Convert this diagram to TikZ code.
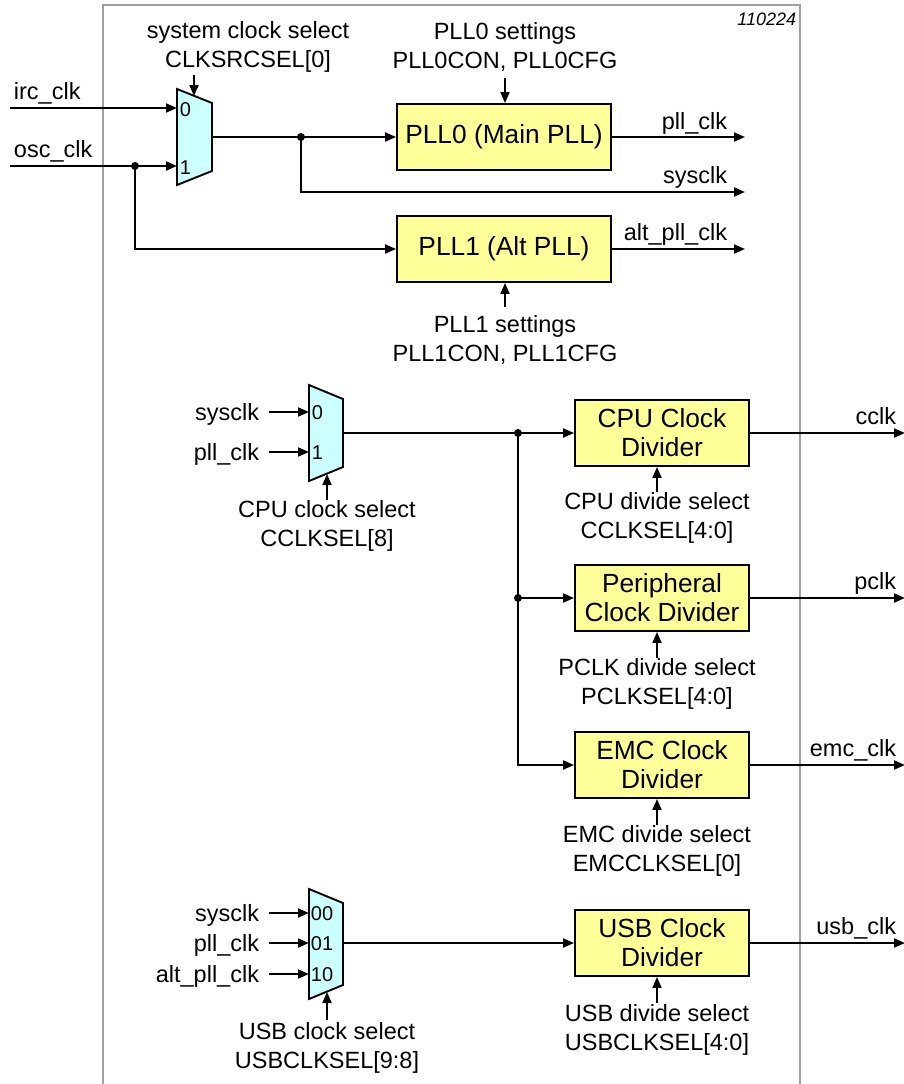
\documentclass[tikz,border=0pt]{standalone}
\usepackage{fontspec}
\setmainfont{Liberation Sans}
\usetikzlibrary{arrows.meta}
\definecolor{boxyellow}{HTML}{FFFF99}
\definecolor{muxcyan}{HTML}{CCFFFF}
\definecolor{framegray}{HTML}{A0A0A0}
\begin{document}
\begin{tikzpicture}[x=1pt,y=-1pt,line width=1.9pt,
  arr/.style={-{Triangle[length=11pt,width=9pt]}},
  lbl/.style={font=\fontsize{23.5}{28.5}\selectfont, inner sep=0pt, align=center},
  sig/.style={font=\fontsize{23.5}{28.5}\selectfont, inner sep=0pt},
  port/.style={font=\fontsize{20}{22}\selectfont, inner sep=0pt, anchor=west},
  blk/.style={draw, fill=boxyellow, font=\fontsize{26.3}{29}\selectfont, align=center, inner sep=0pt},
  muxshape/.style={draw, fill=muxcyan},
  jdot/.style={circle, fill=black, draw=none, inner sep=0pt, minimum size=8pt}]
\useasboundingbox (0,0) rectangle (904,1084);
\fill[white] (0,0) rectangle (904,1084);

% frame
\draw[framegray, line width=1.5pt] (103,1090) -- (103,5) -- (800,5) -- (800,1090);
\node[anchor=base east, inner sep=0pt, font=\fontsize{18}{20}\selectfont\itshape] (ver) at (797,25) {110224};

% ---------- top multiplexer ----------
\draw[muxshape] (177,89) -- (212,103) -- (212,171) -- (177,185) -- cycle;
\coordinate (m0in0) at (177,108);
\coordinate (m0in1) at (177,166);
\coordinate (m0out) at (212,137);
\coordinate (m0sel) at (194,96);
\node[port] (m0p0) at (179,110) {0};
\node[port] (m0p1) at (179,168) {1};

\coordinate (ircs) at (10,108);
\coordinate (oscs) at (10,166);
\node[sig, anchor=base west] (irclbl) at (13,99) {irc\_clk};
\node[sig, anchor=base west] (osclbl) at (13,157) {osc\_clk};
\draw[arr] (ircs) -- (m0in0);
\draw[arr] (oscs) -- (m0in1);
\node[jdot] (d2) at (135,166) {};

\node[lbl] (sysselLbl) at (248,47) {system clock select\\CLKSRCSEL[0]};
\coordinate (m0selS) at (194,75);
\draw[arr] (m0selS) -- (m0sel);

% PLL blocks
\node[blk, minimum width=214pt, minimum height=66pt] (pll0) at (504,137) {PLL0 (Main PLL)};
\node[blk, minimum width=214pt, minimum height=66pt] (pll1) at (504,249) {PLL1 (Alt PLL)};
\node[jdot] (d1) at (301,137) {};
\draw[arr] (m0out) -- (pll0.west);
\coordinate (sysclkE) at (745,192);
\draw[arr] (d1.center) |- (sysclkE);
\draw[arr] (d2.center) |- (pll1.west);

\coordinate (pllclkE) at (745,137);
\coordinate (altE) at (745,249);
\draw[arr] (pll0.east) -- (pllclkE);
\draw[arr] (pll1.east) -- (altE);
\node[sig, anchor=base east] (pllclkLbl) at (728,129) {pll\_clk};
\node[sig, anchor=base east] (sysclkLbl) at (728,183) {sysclk};
\node[sig, anchor=base east] (altLbl) at (728,240) {alt\_pll\_clk};

\node[lbl] (pll0set) at (505,47) {PLL0 settings\\PLL0CON, PLL0CFG};
\coordinate (pll0setS) at (505,78);
\draw[arr] (pll0setS) -- (pll0.north -| pll0setS);
\node[lbl] (pll1set) at (505,340) {PLL1 settings\\PLL1CON, PLL1CFG};
\coordinate (pll1setS) at (505,307);
\draw[arr] (pll1setS) -- (pll1.south -| pll1setS);

% ---------- CPU multiplexer ----------
\draw[muxshape] (309,385) -- (343,399) -- (343,467) -- (309,481) -- cycle;
\coordinate (m1in0) at (309,412);
\coordinate (m1in1) at (309,452);
\coordinate (m1out) at (343,433);
\coordinate (m1sel) at (327,474);
\node[port] (m1p0) at (311,413) {0};
\node[port] (m1p1) at (311,453) {1};
\coordinate (m1s0) at (269,412);
\coordinate (m1s1) at (269,452);
\node[sig, anchor=base east] (m1l0) at (260,420) {sysclk};
\node[sig, anchor=base east] (m1l1) at (260,460) {pll\_clk};
\draw[arr] (m1s0) -- (m1in0);
\draw[arr] (m1s1) -- (m1in1);
\coordinate (m1selS) at (327,500);
\draw[arr] (m1selS) -- (m1sel);
\node[lbl] (cpuselLbl) at (327,526) {CPU clock select\\CCLKSEL[8]};

% dividers
\node[blk, minimum width=174pt, minimum height=66pt] (cpu) at (662,433) {CPU Clock\\Divider};
\node[blk, minimum width=174pt, minimum height=66pt] (per) at (662,598) {Peripheral\\Clock Divider};
\node[blk, minimum width=174pt, minimum height=66pt] (emc) at (662,765) {EMC Clock\\Divider};
\node[blk, minimum width=174pt, minimum height=66pt] (usb) at (662,943) {USB Clock\\Divider};

\node[jdot] (d3) at (518,433) {};
\node[jdot] (d4) at (518,598) {};
\draw[arr] (m1out) -- (cpu.west);
\draw[arr] (d3.center) -- (d4.center) -- (per.west);
\draw[arr] (d4.center) |- (emc.west);

% outputs
\coordinate (cclkE) at (905,433);
\coordinate (pclkE) at (905,598);
\coordinate (emcE) at (905,765);
\coordinate (usbE) at (905,943);
\draw[arr] (cpu.east) -- (cclkE);
\draw[arr] (per.east) -- (pclkE);
\draw[arr] (emc.east) -- (emcE);
\draw[arr] (usb.east) -- (usbE);
\node[sig, anchor=base east] (cclkLbl) at (897,424) {cclk};
\node[sig, anchor=base east] (pclkLbl) at (897,589) {pclk};
\node[sig, anchor=base east] (emcLbl) at (897,756) {emc\_clk};
\node[sig, anchor=base east] (usbLbl) at (897,934) {usb\_clk};

% divider selects
\coordinate (cpuS) at (657,492);
\coordinate (perS) at (657,658);
\coordinate (emcS) at (657,825);
\coordinate (usbS) at (657,1003);
\draw[arr] (cpuS) -- (cpu.south -| cpuS);
\draw[arr] (perS) -- (per.south -| perS);
\draw[arr] (emcS) -- (emc.south -| emcS);
\draw[arr] (usbS) -- (usb.south -| usbS);
\node[lbl] (cpuDivLbl) at (657,518) {CPU divide select\\CCLKSEL[4:0]};
\node[lbl] (perDivLbl) at (657,684) {PCLK divide select\\PCLKSEL[4:0]};
\node[lbl] (emcDivLbl) at (657,851) {EMC divide select\\EMCCLKSEL[0]};
\node[lbl] (usbDivLbl) at (657,1030) {USB divide select\\USBCLKSEL[4:0]};

% ---------- USB multiplexer ----------
\draw[muxshape] (309,889) -- (343,903) -- (343,985) -- (309,999) -- cycle;
\coordinate (m2in0) at (309,913);
\coordinate (m2in1) at (309,943);
\coordinate (m2in2) at (309,974);
\coordinate (m2out) at (343,943);
\coordinate (m2sel) at (327,992);
\node[port] (m2p0) at (310,914) {00};
\node[port] (m2p1) at (310,944) {01};
\node[port] (m2p2) at (310,975) {10};
\coordinate (m2s0) at (269,913);
\coordinate (m2s1) at (269,943);
\coordinate (m2s2) at (269,974);
\node[sig, anchor=base east] (m2l0) at (260,921) {sysclk};
\node[sig, anchor=base east] (m2l1) at (260,951) {pll\_clk};
\node[sig, anchor=base east] (m2l2) at (260,982) {alt\_pll\_clk};
\draw[arr] (m2s0) -- (m2in0);
\draw[arr] (m2s1) -- (m2in1);
\draw[arr] (m2s2) -- (m2in2);
\draw[arr] (m2out) -- (usb.west);
\coordinate (m2selS) at (327,1020);
\draw[arr] (m2selS) -- (m2sel);
\node[lbl] (usbselLbl) at (327,1048) {USB clock select\\USBCLKSEL[9:8]};
\end{tikzpicture}
\end{document}
